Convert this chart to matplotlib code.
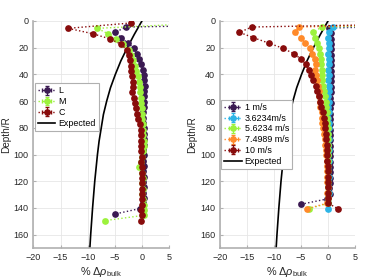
import matplotlib
matplotlib.use("Agg")
import matplotlib.pyplot as plt

plt.rcParams["font.family"] = ["Liberation Sans", "DejaVu Sans"]
plt.rcParams["font.size"] = 6.5
plt.rcParams["mathtext.fontset"] = "custom"
plt.rcParams["mathtext.rm"] = "Liberation Sans"
plt.rcParams["mathtext.it"] = "Liberation Sans:italic"

# ---- left panel: position in channel ----
depth_L = [0.5, 4.5, 8.5, 12.5, 16.5, 20.5, 24.5, 28.5, 32.5, 36.5,
           40.5, 44.5, 48.5, 52.5, 56.5, 60.5, 64.5, 68.5, 72.5, 76.5,
           80.5, 84.5, 88.5, 92.5, 96.5, 100.5, 104.5, 108.5, 112.5, 116.5,
           120.5, 124.5, 128.5, 132.5, 136.5, 140.5, 144.5]
rho_L = [60, -3.0, -4.9, -3.85, -2.6, -1.4, -0.95, -0.55, -0.15, 0.15,
         0.33, 0.4, 0.5, 0.45, 0.4, 0.35, 0.3, 0.25, 0.2, 0.2,
         0.4, 0.4, 0.4, 0.3, 0.2, 0.3, 0.2, 0.3, 0.2, 0.3,
         0.2, 0.3, 0.2, 0.3, 0.2, -0.4, -4.9]

depth_MC = [1.5, 5.5, 9.5, 13.5, 17.5, 21.5, 25.5, 29.5, 33.5, 37.5,
            41.5, 45.5, 49.5, 53.5, 57.5, 61.5, 65.5, 69.5, 73.5, 77.5,
            81.5, 85.5, 89.5, 93.5, 97.5, 101.5, 105.5, 109.5, 113.5, 117.5,
            121.5, 125.5, 129.5, 133.5, 137.5, 141.5, 145.5, 149.5]
rho_M = [12, -8.2, -6.3, -4.8, -3.4, -2.4, -2.1, -1.6, -1.3, -1.0,
         -0.78, -0.52, -0.4, -0.28, -0.2, -0.15, -0.05, 0.0, 0.1, 0.15,
         0.2, 0.25, 0.3, 0.3, 0.2, 0.1, -0.1, -0.5, 0.1, 0.2,
         0.1, 0.2, 0.1, 0.2, 0.3, 0.4, 0.4, -6.8]
rho_C = [-2.1, -13.6, -9.1, -5.8, -3.8, -2.8, -2.4, -2.25, -2.1, -1.95,
         -1.75, -1.6, -1.7, -1.75, -1.55, -1.35, -1.1, -0.9, -0.7, -0.4,
         -0.25, -0.15, -0.15, -0.1, -0.1, -0.05, -0.15, 0.0, 0.0, 0.05,
         0.0, 0.1, 0.1, 0.1, 0.0, -0.1, 0.0, -0.2]

# ---- right panel: wind speed ----
depth_A = [0.5, 4.5, 8.5, 12.5, 16.5, 20.5, 24.5, 28.5, 32.5, 36.5,
           40.5, 44.5, 48.5, 52.5, 56.5, 60.5, 64.5, 68.5, 72.5, 76.5,
           80.5, 84.5, 88.5, 92.5, 96.5, 100.5, 104.5, 108.5, 112.5, 116.5,
           120.5, 124.5, 128.5, 132.5, 136.5, 140.5]
depth_B = [1.3, 5.3, 9.3, 13.3, 17.3, 21.3, 25.3, 29.3, 33.3, 37.3,
           41.3, 45.3, 49.3, 53.3, 57.3, 61.3, 65.3, 69.3, 73.3, 77.3,
           81.3, 85.3, 89.3, 93.3, 97.3, 101.3, 105.3, 109.3, 113.3, 117.3,
           121.3, 125.3, 129.3, 133.3, 137.3]
rho_1 = [40, 0.1, 0.5, 0.5, 0.55, 0.6, 0.65, 0.6, 0.55, 0.5,
         0.6, 0.5, 0.55, 0.5, 0.45, 0.5, 0.4, 0.45, 0.4, 0.35,
         0.4, 0.45, 0.35, 0.4, 0.3, 0.35, 0.3, 0.3, 0.35, 0.3,
         0.3, 0.25, 0.3, -0.2, -5.05]
rho_36 = [40, 0.9, 0.1, 0.0, 0.15, 0.1, 0.0, 0.1, 0.15, 0.05,
          0.1, 0.0, 0.1, 0.15, 0.05, 0.1, 0.0, 0.1, 0.05, 0.1,
          0.15, 0.05, 0.1, 0.0, 0.1, 0.05, 0.1, 0.0, 0.05, 0.1,
          0.0, 0.05, 0.1, 0.0, 0.05, 0.0]
rho_56 = [40, -1.2, -2.7, -2.4, -2.0, -1.7, -1.5, -1.35, -1.3, -1.2,
          -1.2, -1.05, -0.9, -0.75, -0.55, -0.45, -0.3, -0.2, -0.15, -0.1,
          -0.05, 0.0, 0.05, 0.0, 0.05, 0.0, 0.05, 0.0, 0.0, 0.05,
          0.0, 0.05, 0.0, 0.0, 0.05, -3.5]
rho_75 = [40, -5.3, -6.2, -5.05, -4.25, -3.35, -2.9, -2.45, -2.3, -2.45,
          -2.15, -1.95, -1.8, -1.65, -1.6, -1.5, -1.4, -1.2, -1.1, -1.05,
          -0.9, -0.75, -0.6, -0.5, -0.4, -0.3, -0.2, -0.2, -0.1, -0.1,
          -0.1, -0.05, -0.1, -0.05, -0.2, -3.8]
rho_10 = [40, -14.1, -16.4, -13.8, -11.0, -8.3, -6.3, -5.0, -4.1, -3.6,
          -3.1, -2.7, -2.3, -2.1, -1.7, -1.45, -1.25, -1.0, -0.8, -0.6,
          -0.5, -0.45, -0.35, -0.25, -0.2, -0.1, -0.1, 0.0, 0.0, 0.05,
          0.0, 0.05, 0.05, 0.0, 0.05, 1.8]

# expected profile
depth_exp = [0, 10, 20, 30, 40, 50, 60, 70, 80, 90, 100, 120, 140, 160, 170]
rho_exp = [0.0, -1.4, -2.7, -3.9, -4.9, -5.8, -6.5, -7.1, -7.5, -7.9,
           -8.2, -8.7, -9.1, -9.45, -9.6]

left_series = [("L", depth_L, rho_L, "#3b1a52"),
               ("M", depth_MC, rho_M, "#9cf23c"),
               ("C", depth_MC, rho_C, "#880c0c")]
right_series = [("1 m/s", depth_B, rho_1, "#3b1a52"),
                ("3.6234m/s", depth_A, rho_36, "#2db4e6"),
                ("5.6234 m/s", depth_A, rho_56, "#9cf23c"),
                ("7.4989 m/s", depth_A, rho_75, "#ff8a2a"),
                ("10 m/s", depth_A, rho_10, "#880c0c")]


def style_axis(ax):
    ax.set_xlim(-20, 5)
    ax.set_ylim(170, 0)
    ax.set_xticks([-20, -15, -10, -5, 0, 5])
    ax.set_yticks([0, 20, 40, 60, 80, 100, 120, 140, 160])
    ax.grid(True, color="#e6e6e6", linewidth=0.6)
    ax.set_axisbelow(True)
    for side in ["top", "right"]:
        ax.spines[side].set_visible(False)
    for side in ["left", "bottom"]:
        ax.spines[side].set_color("#b0b0b0")
        ax.spines[side].set_linewidth(1.2)
    ax.tick_params(direction="in", length=2.5, color="#b0b0b0",
                   labelcolor="#262626", labelsize=6.5, pad=3.5)
    ax.set_ylabel("Depth/R", color="#262626", fontsize=7.2, labelpad=2)
    ax.set_xlabel(r"% $\Delta\mathit{\rho}_{\rm bulk}$", color="#262626",
                  fontsize=7.8, labelpad=2)


def draw_panel(ax, series, legend_top):
    handles = []
    for label, depth, rho, color in series:
        h = ax.errorbar(rho, depth, xerr=0.3, yerr=1.0, fmt="o", linestyle=":",
                        color=color, ecolor=color, markersize=3.8, linewidth=1,
                        elinewidth=0.8, capsize=1.2, label=label)
        handles.append(h)
    line, = ax.plot(rho_exp, depth_exp, color="black", linewidth=1.2,
                    label="Expected")
    handles.append(line)
    style_axis(ax)
    leg = ax.legend(handles=handles, loc="upper left",
                    bbox_to_anchor=(0.008, legend_top),
                    borderaxespad=0, fontsize=6.4, handlelength=2.0,
                    handletextpad=0.3, labelspacing=0.2, borderpad=0.35,
                    fancybox=False, framealpha=1)
    leg.get_frame().set_edgecolor("#b0b0b0")
    leg.get_frame().set_linewidth(0.8)


fig = plt.figure(figsize=(3.73, 2.8), dpi=100)
ax1 = fig.add_axes([0.0898, 0.1143, 0.3633, 0.8107])
ax2 = fig.add_axes([0.5898, 0.1143, 0.3619, 0.8107])

draw_panel(ax1, left_series, 0.726)
draw_panel(ax2, right_series, 0.653)

fig.savefig("out.png", dpi=100)
